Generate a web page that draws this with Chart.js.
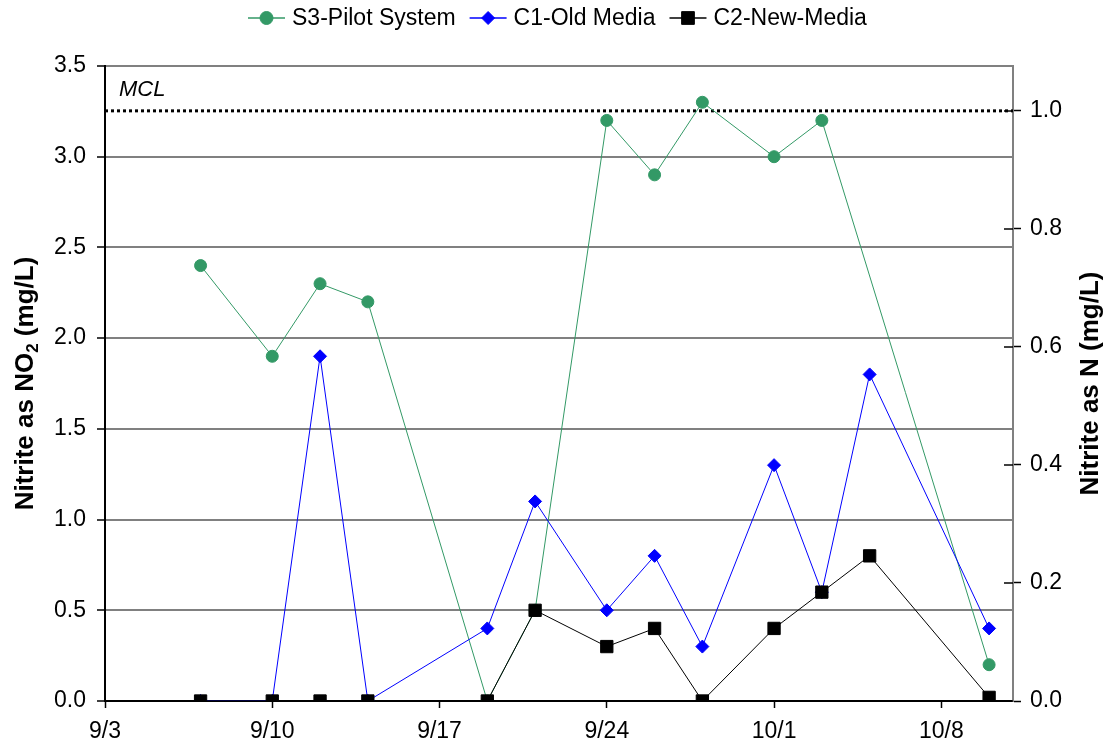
<!DOCTYPE html>
<html>
<head>
<meta charset="utf-8">
<script src="https://cdn.jsdelivr.net/npm/chart.js@4.4.1/dist/chart.umd.min.js"></script>
<style>
  html, body { margin: 0; padding: 0; background: #fff; }
  #wrap { width: 1105px; height: 747px; }
</style>
</head>
<body>
<div id="wrap"><canvas id="nitrite-canvas" width="1105" height="747"></canvas></div>
<script>
// sampling dates and readings (mg/L as NO2)
const sampleDates = ['9/7', '9/10', '9/12', '9/14', '9/19', '9/21', '9/24', '9/26', '9/28', '10/1', '10/3', '10/5', '10/10'];
const s3Values = [2.4, 1.9, 2.3, 2.2, 0, 0.5, 3.2, 2.9, 3.3, 3.0, 3.2, null, 0.2];
const c1Values = [0, 0, 1.9, 0, 0.4, 1.1, 0.5, 0.8, 0.3, 1.3, 0.6, 1.8, 0.4];
const c2Values = [0, 0, 0, 0, 0, 0.5, 0.3, 0.4, 0, 0.4, 0.6, 0.8, 0.02];

const xTickLabels = ['9/3', '9/10', '9/17', '9/24', '10/1', '10/8'];
const xStart = '9/3';
const xEnd = '10/11';

const leftTicks = [0, 0.5, 1.0, 1.5, 2.0, 2.5, 3.0, 3.5];
const rightTicks = [0, 0.2, 0.4, 0.6, 0.8, 1.0];
const rightMax = 1.076; // right axis top
const mclLevel = 1.0;   // mg/L as N

const FONT = '"Liberation Sans", Arial, Helvetica, sans-serif';
const GREEN = '#339966';
const BLUE = '#0000ff';
const BLACK = '#000000';

// days since 9/3
function dayOf(s) {
  const [m, d] = s.split('/').map(Number);
  return m === 9 ? d - 3 : 27 + d;
}

const toPoints = (vals) => sampleDates.map((d, i) => ({ x: dayOf(d), y: vals[i] }));

const legendItems = [
  { label: 'S3-Pilot System', color: GREEN, style: 'circle', radius: 6.5 },
  { label: 'C1-Old Media', color: BLUE, style: 'rectRot', radius: 6.5 },
  { label: 'C2-New-Media', color: BLACK, style: 'rect', radius: 9 },
];

function drawTitle(ctx, x, y, parts) {
  ctx.save();
  ctx.translate(x, y);
  ctx.rotate(-Math.PI / 2);
  ctx.fillStyle = '#000';
  ctx.textBaseline = 'middle';
  ctx.textAlign = 'left';
  let total = 0;
  parts.forEach(p => {
    ctx.font = `bold ${p.sub ? 17 : 26}px ${FONT}`;
    p.w = ctx.measureText(p.text).width;
    total += p.w;
  });
  let cx = -total / 2;
  parts.forEach(p => {
    ctx.font = `bold ${p.sub ? 17 : 26}px ${FONT}`;
    ctx.fillText(p.text, cx, p.sub ? 7 : 0);
    cx += p.w;
  });
  ctx.restore();
}

const extrasPlugin = {
  id: 'extras',
  afterDraw(chart) {
    const ctx = chart.ctx;
    const { x, y, y2 } = chart.scales;
    const area = chart.chartArea;

    // right axis ticks cross the axis line
    ctx.save();
    ctx.strokeStyle = '#000';
    ctx.lineWidth = 1.5;
    y2.ticks.forEach(t => {
      const py = Math.round(y2.getPixelForValue(t.value));
      ctx.beginPath();
      ctx.moveTo(area.right - 9, py);
      ctx.lineTo(area.right, py);
      ctx.stroke();
    });
    ctx.restore();

    // MCL label
    ctx.save();
    ctx.font = `italic 22px ${FONT}`;
    ctx.fillStyle = '#000';
    ctx.textBaseline = 'middle';
    ctx.fillText('MCL', x.getPixelForValue(dayOf(xStart)) + 14, y2.getPixelForValue(mclLevel) - 21);
    ctx.restore();

    // legend: line with marker, then text
    ctx.save();
    ctx.font = `23px ${FONT}`;
    ctx.textBaseline = 'middle';
    let lx = 248;
    const ly = 18;
    legendItems.forEach(item => {
      ctx.strokeStyle = item.color;
      ctx.lineWidth = 1.5;
      ctx.beginPath();
      ctx.moveTo(lx, ly);
      ctx.lineTo(lx + 37, ly);
      ctx.stroke();
      ctx.fillStyle = item.color;
      ctx.lineWidth = 1;
      Chart.helpers.drawPoint(ctx, { pointStyle: item.style, radius: item.radius, rotation: 0, borderWidth: 1 }, lx + 18.5, ly);
      ctx.fillStyle = '#000';
      ctx.fillText(item.label, lx + 44, ly + 1);
      lx += 44 + ctx.measureText(item.label).width + 14;
    });
    ctx.restore();

    const midY = (area.top + area.bottom) / 2;
    drawTitle(ctx, 26, midY, [{ text: 'Nitrite as NO' }, { text: '2', sub: true }, { text: ' (mg/L)' }]);
    drawTitle(ctx, 1091, midY, [{ text: 'Nitrite as N (mg/L)' }]);
  }
};

function nitriteChart(canv) {
  const ctx = canv.getContext('2d');

  const lineDefaults = {
    borderWidth: 1,
    pointBorderWidth: 1,
    fill: false,
    tension: 0,
    xAxisID: 'x',
    yAxisID: 'y',
  };

  const data = {
    datasets: [
      {
        ...lineDefaults,
        label: 'MCL',
        data: [{ x: dayOf(xStart), y: mclLevel }, { x: dayOf(xEnd), y: mclLevel }],
        yAxisID: 'y2',
        borderColor: '#000',
        borderWidth: 3,
        borderDash: [3, 3],
        pointRadius: 0,
        order: 4,
      },
      {
        ...lineDefaults,
        label: 'S3-Pilot System',
        data: toPoints(s3Values),
        spanGaps: true,
        borderColor: GREEN,
        backgroundColor: GREEN,
        pointStyle: 'circle',
        pointRadius: 6,
        order: 3,
      },
      {
        ...lineDefaults,
        label: 'C1-Old Media',
        data: toPoints(c1Values),
        borderColor: BLUE,
        backgroundColor: BLUE,
        pointStyle: 'rectRot',
        pointRadius: 6.5,
        order: 2,
      },
      {
        ...lineDefaults,
        label: 'C2-New-Media',
        data: toPoints(c2Values),
        borderColor: BLACK,
        backgroundColor: BLACK,
        pointStyle: 'rect',
        pointRadius: 8.7,
        order: 1,
      },
    ]
  };

  const configuration = {
    type: 'line',
    data: data,
    plugins: [extrasPlugin],
    options: {
      responsive: false,
      animation: false,
      layout: { padding: { top: 66, left: 0, right: 0, bottom: 0 } },
      plugins: {
        legend: { display: false },
        tooltip: { enabled: false },
      },
      scales: {
        x: {
          type: 'linear',
          position: 'bottom',
          min: dayOf(xStart),
          max: dayOf(xEnd),
          afterBuildTicks: (scale) => {
            scale.ticks = xTickLabels.map(l => ({ value: dayOf(l) }));
          },
          afterFit: (scale) => { scale.height = 46; },
          grid: {
            drawOnChartArea: false,
            tickLength: 7,
            tickColor: '#000',
            tickWidth: 1.5,
          },
          border: { color: '#000', width: 2 },
          ticks: {
            padding: 10,
            maxRotation: 0,
            color: '#000',
            font: { family: FONT, size: 23 },
            callback: (v) => xTickLabels[xTickLabels.map(dayOf).indexOf(v)],
          },
        },
        y: {
          type: 'linear',
          position: 'left',
          min: 0,
          max: 3.5,
          afterBuildTicks: (scale) => {
            scale.ticks = leftTicks.map(v => ({ value: v }));
          },
          afterFit: (scale) => { scale.width = 105; },
          grid: {
            color: '#808080',
            lineWidth: 2,
            tickLength: 8,
            tickColor: '#000',
            tickWidth: 1.5,
          },
          border: { color: '#000', width: 2 },
          ticks: {
            padding: 11,
            color: '#000',
            font: { family: FONT, size: 23 },
            callback: (v) => v.toFixed(1),
          },
        },
        y2: {
          type: 'linear',
          position: 'right',
          min: 0,
          max: rightMax,
          afterBuildTicks: (scale) => {
            scale.ticks = rightTicks.map(v => ({ value: v }));
          },
          afterFit: (scale) => { scale.width = 92; },
          grid: {
            drawOnChartArea: false,
            tickLength: 8,
            tickColor: '#000',
            tickWidth: 1.5,
          },
          border: { color: '#808080', width: 2 },
          ticks: {
            padding: 9,
            color: '#000',
            font: { family: FONT, size: 23 },
            callback: (v) => v.toFixed(1),
          },
        },
      },
    },
  };

  return new Chart(ctx, configuration);
}

nitriteChart(document.getElementById('nitrite-canvas'));
</script>
</body>
</html>
